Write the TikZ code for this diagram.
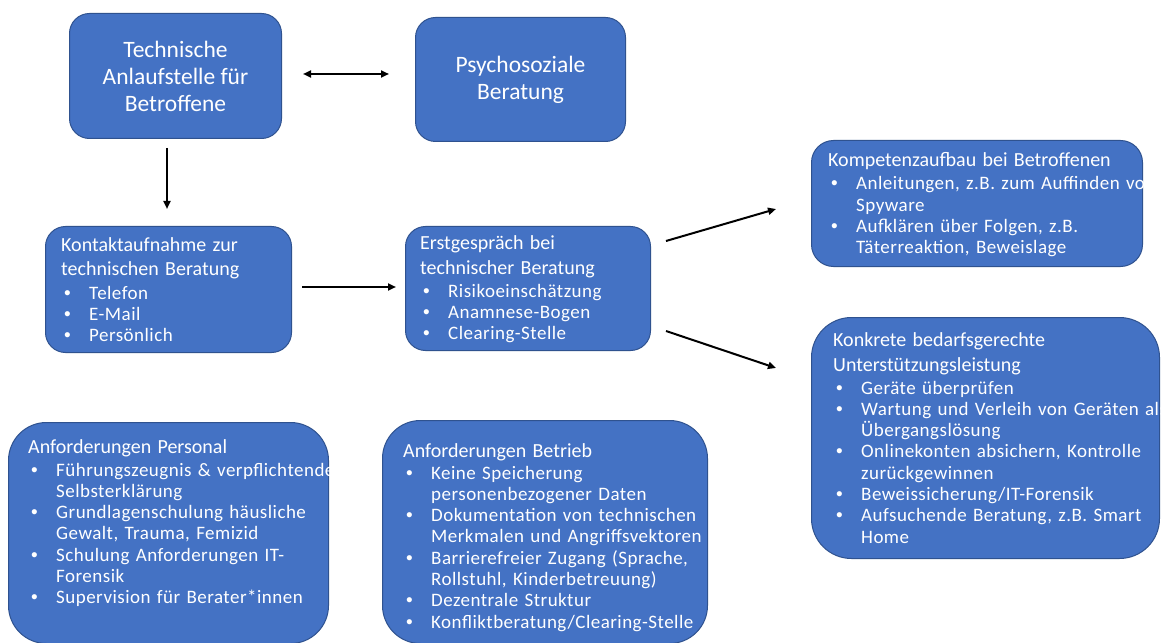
\documentclass[tikz,border=0pt]{standalone}
\usepackage{fontspec}
\setmainfont{Carlito}
\newfontfamily\bfnt{Carlito}[LetterSpace=2.5]
\newfontfamily\bulfnt{Liberation Sans}
\usetikzlibrary{arrows.meta,calc}
\definecolor{boxblue}{HTML}{4472C4}
\definecolor{boxline}{HTML}{2F528F}
\setlength{\parindent}{0pt}
\newcommand{\bl}[1]{\makebox[28bp][l]{\hspace*{3bp}{\bulfnt •}}{\bfnt #1}}
\newcommand{\cl}[1]{\hspace*{28bp}{\bfnt #1}}
\newcommand{\hd}[1]{{\fontsize{20bp}{21.3bp}\selectfont #1}}
\tikzset{
  box/.style={draw=boxline, fill=boxblue, line width=1bp, rounded corners=#1,
    inner sep=0pt, anchor=north west, text=white},
  box/.default=20bp,
  toptxt/.style={align=center, font=\fontsize{23.5bp}{27bp}\selectfont},
  txt/.style={text=white, inner sep=0pt, anchor=base west, text width=420bp,
    align=left, font=\fontsize{19bp}{21.3bp}\selectfont},
  arr/.style={line width=2bp, -{Triangle[length=8bp,width=7bp]}},
  darr/.style={line width=2bp, {Triangle[length=8bp,width=7bp]}-{Triangle[length=8bp,width=7bp]}}
}
\begin{document}
\begin{tikzpicture}[x=1bp,y=-1bp]
\useasboundingbox[fill=white] (0,0) rectangle (1167,643);

% top boxes
\node[box, minimum width=212bp, minimum height=125bp] (anl) at (69,13) {};
\node[toptxt, text=white] (anlT) at (anl.center) {Technische\\Anlaufstelle für\\Betroffene};
\node[box, minimum width=210bp, minimum height=124bp] (psy) at (415,17) {};
\node[toptxt, text=white] (psyT) at (psy.center) {Psychosoziale\\Beratung};

% middle row
\node[box, minimum width=246bp, minimum height=126bp] (kon) at (45,226) {};
\node[txt] (konT) at (61,252) {\hd{Kontaktaufnahme zur}\\[2.2bp]
\hd{technischen Beratung}\\[2.4bp]
\bl{Telefon}\\
\bl{E-Mail}\\
\bl{Persönlich}};

\node[box, minimum width=245bp, minimum height=124bp] (erst) at (405,226) {};
\node[txt] (erstT) at (420,250) {\hd{Erstgespräch bei}\\[3.5bp]
\hd{technischer Beratung}\\[1bp]
\bl{Risikoeinschätzung}\\
\bl{Anamnese-Bogen}\\
\bl{Clearing-Stelle}};

% right column
\node[box=22bp, minimum width=331bp, minimum height=126bp] (komp) at (811,140) {};
\node[txt] (kompT) at (828,167) {\hd{Kompetenzaufbau bei Betroffenen}\\[1.7bp]
\bl{Anleitungen, z.B. zum Auffinden von}\\
\cl{Spyware}\\
\bl{Aufklären über Folgen, z.B.}\\
\cl{Täterreaktion, Beweislage}};

\node[box=40bp, minimum width=348bp, minimum height=241bp] (konk) at (811,317) {};
\node[txt] (konkT) at (833,347) {\hd{Konkrete bedarfsgerechte}\\[2.7bp]
\hd{Unterstützungsleistung}\\[1.7bp]
\bl{Geräte überprüfen}\\
\bl{Wartung und Verleih von Geräten als}\\
\cl{Übergangslösung}\\
\bl{Onlinekonten absichern, Kontrolle}\\
\cl{zurückgewinnen}\\
\bl{Beweissicherung/IT-Forensik}\\
\bl{Aufsuchende Beratung, z.B. Smart}\\
\cl{Home}};

% bottom boxes
\node[box=38bp, minimum width=320bp, minimum height=221bp] (pers) at (8,422) {};
\node[txt] (persT) at (28,453) {\hd{Anforderungen Personal}\\[1.7bp]
\bl{Führungszeugnis \& verpflichtende}\\
\cl{Selbsterklärung}\\
\bl{Grundlagenschulung häusliche}\\
\cl{Gewalt, Trauma, Femizid}\\
\bl{Schulung Anforderungen IT-}\\
\cl{Forensik}\\
\bl{Supervision für Berater*innen}};

\node[box=38bp, minimum width=325bp, minimum height=223bp] (betr) at (382,420) {};
\node[txt] (betrT) at (403,457) {\hd{Anforderungen Betrieb}\\[0.7bp]
\bl{Keine Speicherung}\\
\cl{personenbezogener Daten}\\
\bl{Dokumentation von technischen}\\
\cl{Merkmalen und Angriffsvektoren}\\
\bl{Barrierefreier Zugang (Sprache,}\\
\cl{Rollstuhl, Kinderbetreuung)}\\
\bl{Dezentrale Struktur}\\
\bl{Konfliktberatung/Clearing-Stelle}};

% connectors (free ends)
\coordinate (d1) at (303,74);
\coordinate (d2) at (389,74);
\coordinate (v1) at (167,148);
\coordinate (v2) at (167,209);
\coordinate (h1) at (302,287);
\coordinate (h2) at (396,287);
\coordinate (u1) at (666,241);
\coordinate (u2) at (776,209);
\coordinate (l1) at (666,331);
\coordinate (l2) at (776,368);

\draw[darr] (d1) -- (d2);
\draw[arr] (v1) -- (v2);
\draw[arr] (h1) -- (h2);
\draw[arr] (u1) -- (u2);
\draw[arr] (l1) -- (l2);
\end{tikzpicture}
\end{document}
